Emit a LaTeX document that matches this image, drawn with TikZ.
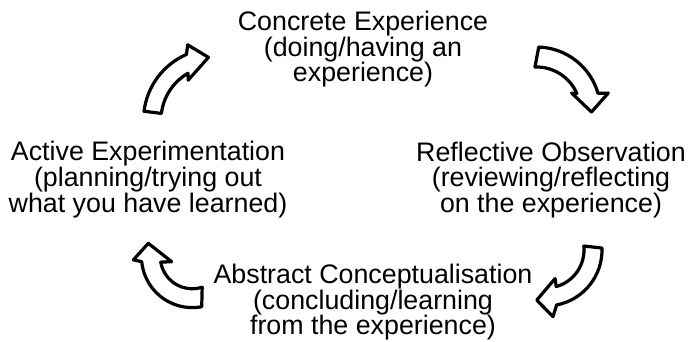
\documentclass[tikz,border=0pt]{standalone}
\usepackage{fontspec}
\setmainfont{Liberation Sans}
\begin{document}
\begin{tikzpicture}[x=1pt,y=1pt,
  label/.style={align=center,inner sep=0pt,anchor=base,font=\fontsize{26.8}{24.5}\selectfont},
  cyclearrow/.style={draw=black,fill=white,line width=3.2pt,line join=round}]
\fill[white] (0,0) rectangle (688,342);
\useasboundingbox (0,0) rectangle (688,342);

% anchor=base is the baseline of the last line
\node[label] (ce) at (363,260) {Concrete Experience\\(doing/having an\\experience)};
\node[label] (ro) at (551,129.7) {Reflective Observation\\(reviewing/reflecting\\on the experience)};
\node[label] (ac) at (373,7) {Abstract Conceptualisation\\(concluding/learning\\from the experience)};
\node[label] (ae) at (148,129.7) {Active Experimentation\\(planning/trying out\\what you have learned)};

% top-left arrow
\begin{scope}[shift={(215,222)}]
\draw[cyclearrow] (173:54) -- (173:71.5) arc[start angle=173,end angle=113.5,radius=71.5]
  -- (110:80) -- (96:63) -- (124:48) -- (120:54) arc[start angle=120,end angle=173,radius=54] -- cycle;
\end{scope}
% top-right arrow
\begin{scope}[shift={(536.5,231)}]
\draw[cyclearrow] (92:44) -- (88:64) arc[start angle=88,end angle=16,radius=64]
  -- (14:74) -- (-1:55) -- (27:39.4) -- (23.4:44) arc[start angle=23.4,end angle=92,radius=44] -- cycle;
\end{scope}
% bottom-right arrow
\begin{scope}[shift={(546,92)}]
\draw[cyclearrow] (6:38) -- (2:56) arc[start angle=2,end angle=-79,radius=56]
  -- (-84:67) -- (-100.5:51) -- (-72.4:30) -- (-74.4:38) arc[start angle=-74.4,end angle=6,radius=38] -- cycle;
\end{scope}
% bottom-left arrow
\begin{scope}[shift={(192.3,85.2)}]
\draw[cyclearrow] (-79.3:50.8) arc[start angle=-79.3,end angle=-174.5,radius=50.8]
  -- (183:59) -- (163:46) -- (193.4:21.2) -- (189.6:32) arc[start angle=189.6,end angle=288,radius=32] -- cycle;
\end{scope}
\end{tikzpicture}
\end{document}
